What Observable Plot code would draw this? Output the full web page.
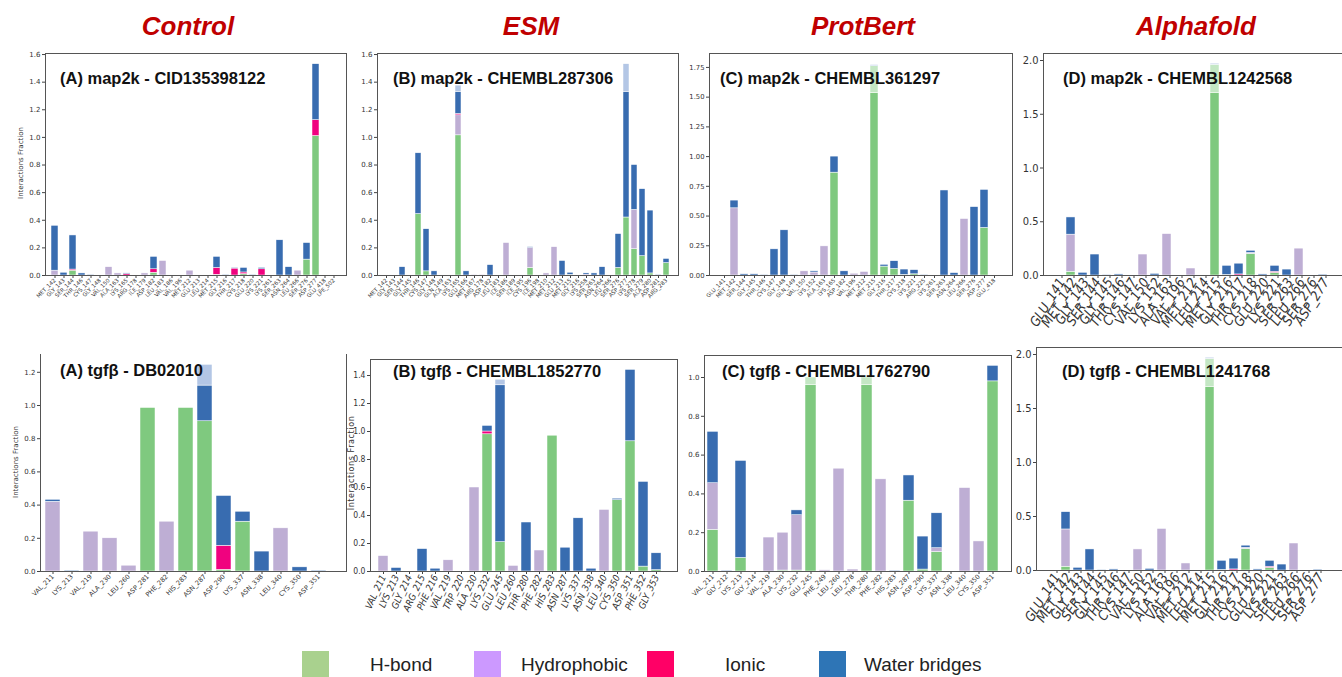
<!DOCTYPE html>
<html><head><meta charset="utf-8">
<script src="https://cdn.jsdelivr.net/npm/d3@7"></script>
<script src="https://cdn.jsdelivr.net/npm/@observablehq/plot@0.6"></script>
<style>
body{margin:0;background:#fff;}
#root{position:relative;width:1342px;height:677px;overflow:hidden;font-family:"Liberation Sans",Arial,sans-serif;}
.hdr{position:absolute;font-weight:bold;font-style:italic;font-size:26px;color:#c00000;transform:translate(-50%,-50%);white-space:nowrap}
.ttl{position:absolute;font-weight:bold;font-size:16.5px;color:#111;white-space:nowrap;transform:translateY(-50%)}
.spine{position:absolute;box-sizing:border-box;border:0 solid #555;}
.ylab{position:absolute;white-space:nowrap;color:#333;font-family:"DejaVu Sans",sans-serif;transform:translate(-50%,-50%) rotate(-90deg);}
.leg{position:absolute;font-size:19px;color:#222;transform:translateY(-50%);white-space:nowrap}
.sw{position:absolute;width:27px;height:27px}
</style></head>
<body><div id="root"></div>
<script>
// ---------- series ----------
const SERIES = ["H-bond","Hydrophobic","Ionic","Water bridges","H-bond (faded)","Water bridges (faded)"];
const COLORS = ["#7fc97f","#beaed4","#f0027f","#386cb0","#c4e7c4","#b3c6e5"];

// ---------- map2k : Control ----------
const ctrlMapLabels = ["MET_142","GLY_143","SER_144","THR_146","CYS_147","GLY_148","VAL_150","ALA_163","LYS_165","ARG_178","ILE_179","ASP_182","LEU_183","VAL_186","VAL_196","MET_212","GLU_213","LEU_214","MET_215","GLY_216","THR_217","CYS_218","GLU_220","LYS_221","LYS_261","SER_263","ASN_264","LEU_266","SER_276","ASP_277","GLU_418","LPE_502"];
const ctrlMapHB  = [0,0,.035,0,0,0,0,0,0,0,0,.02,0,0,0,0,0,0,.005,0,0,.01,0,0,0,0,0,0,.115,1.01,0,0];
const ctrlMapHP  = [.035,0,0,0,0,0,.06,.015,0,0,.015,0,.105,0,0,.035,0,0,0,0,0,0,0,0,0,0,0,.035,0,0,0,0];
const ctrlMapION = [0,0,.008,0,0,0,0,0,.01,0,0,.025,0,0,0,0,0,0,.05,0,.05,.012,0,.045,0,0,0,0,0,.115,0,0];
const ctrlMapWB  = [.325,.02,.247,.015,.005,0,0,0,.005,0,0,.09,0,0,0,0,0,0,.08,.005,.005,.033,.005,.01,0,.255,.06,0,.12,.405,0,0];

// ---------- map2k : ESM ----------
const esmMapLabels = ["MET_142","GLY_143","SER_144","GLY_145","THR_146","CYS_147","GLY_148","GLN_149","ALA_163","LYS_165","GLU_166","MET_167","ARG_178","ASP_182","LEU_183","ILE_186","SER_189","ILE_195","CYS_196","ILE_198","MET_210","MET_212","GLU_213","MET_215","GLY_216","LYS_258","SER_263","ASN_264","LEU_266","SER_276","ASP_277","LYS_278","SER_279","ALA_280","ASP_281","ARG_283"];
const esmMapHB  = [0,0,0,0,.445,.03,0,0,0,1.015, 0,0,0,0,0,0,0,0,.055,0, 0,0,0,.005,0,0,0,0,0,.055, .42,.19,.14,.015,0,.09];
const esmMapHP  = [0,0,0,0,0,0,0,0,0,.145, 0,.005,.005,0,0,.235,0,0,.145,0, .015,.205,0,0,0,0,0,0,0,0, 0,.285,0,0,0,0];
const esmMapION = [0,0,0,0,0,0,0,0,0,.01, 0,0,0,0,0,0,0,0,0,0, 0,0,0,0,0,.005,0,0,0,0, 0,0,0,0,0,0];
const esmMapWB  = [0,0,.06,0,.44,.305,.03,0,0,.16, .03,0,0,.075,0,0,0,0,.005,0, 0,0,.105,.015,0,.01,.015,.06,0,.245, .91,.325,.485,.455,.005,.03];
const esmMapWBX = [0,0,0,0,0,0,0,0,0,.045, 0,0,0,0,0,0,0,0,0,0, 0,0,0,0,0,0,0,0,0,0, .20,0,0,0,0,0];

// ---------- map2k : ProtBert ----------
const pbMapLabels = ["GLU_141","MET_142","SER_144","GLY_145","THR_146","CYS_147","GLY_148","GLN_149","VAL_150","LYS_152","ALA_163","LYS_165","ASP_182","VAL_196","MET_212","MET_215","GLY_216","THR_217","CYS_218","LYS_221","ARG_225","LYS_261","SER_263","ASN_264","LEU_266","SER_276","ASP_277","GLU_418"];
const pbMapHB  = [0,0,0,0,0,0,0,0,0,0, 0,.865,0,0,0,1.535,.075,.055,.005,.01, 0,0,0,0,0,0,.40,0];
const pbMapHBX = [0,0,0,0,0,0,0,0,0,0, 0,0,0,0,0,.225,0,0,0,0, 0,0,0,0,0,0,0,0];
const pbMapHP  = [0,.565,0,0,0,0,0,0,.035,.025, .245,0,0,.015,.03,0,0,0,0,0, 0,0,0,0,.475,0,0,0];
const pbMapWB  = [0,.065,.01,.01,.005,.22,.38,.005,0,.01, 0,.135,.035,0,0,0,.015,.065,.045,.035, .005,0,.715,.02,0,.575,.32,0];
const pbMapWBX = [0,0,0,0,0,0,0,0,0,0, 0,0,0,0,0,.01,0,0,0,0, 0,0,0,0,0,0,0,0];

// ---------- map2k / tgfb : Alphafold ----------
const afLabels = ["GLU_141","MET_142","GLY_143","SER_144","GLY_145","THR_146","CYS_147","VAL_150","LYS_152","ALA_163","VAL_196","MET_212","LEU_214","MET_215","GLY_216","THR_217","CYS_218","GLU_220","LYS_221","SER_263","LEU_266","SER_276","ASP_277"];
const afHB  = [0,.035,0,0,0,0,0,0,0,0, 0,0,0,1.70,.005,0,.20,0,.025,0, 0,0,0];
const afHBX = [0,0,0,0,0,0,0,0,0,0, 0,0,0,.26,0,0,0,0,0,0, 0,0,0];
const afHP  = [0,.345,0,0,0,0,0,.195,0,.385, 0,.065,0,0,0,0,.01,0,0,0, .25,0,0];
const afION = [0,0,0,0,0,0,0,0,0,0, 0,0,0,0,0,.01,0,0,.01,0, 0,0,0];
const afWB  = [0,.16,.025,.195,.005,.01,0,0,.015,0, 0,0,0,0,.085,.10,.02,.01,.055,.055, 0,0,.008];
const afWBX = [0,0,0,0,0,0,0,0,0,0, 0,0,0,.01,0,0,0,0,0,0, 0,0,0];

// ---------- tgfb : Control ----------
const ctrlTgfLabels = ["VAL_211","LYS_213","VAL_219","ALA_230","LEU_260","ASP_281","PHE_282","HIS_283","ASN_287","ASP_290","LYS_337","ASN_338","LEU_340","CYS_350","ASP_351"];
const ctrlTgfHB  = [0,0,0,0,0,.985,0,.985,.905,.01,.30,0,0,0,0];
const ctrlTgfHP  = [.42,0,.24,.20,.035,0,.30,0,0,0,0,0,.26,0,0];
const ctrlTgfION = [0,0,0,0,0,0,0,0,0,.145,0,0,0,0,0];
const ctrlTgfWB  = [.012,.005,0,0,0,0,0,0,.215,.30,.06,.12,0,.025,.005];
const ctrlTgfWBX = [0,0,0,0,0,0,0,0,.125,0,0,0,0,0,0];

// ---------- tgfb : ESM ----------
const esmTgfLabels = ["VAL_211","LYS_213","GLY_214","ARG_215","PHE_216","VAL_219","TRP_220","ALA_230","LYS_232","GLU_245","LEU_260","THR_280","PHE_282","HIS_283","ASN_287","LYS_337","ASN_338","LEU_340","CYS_350","ASP_351","PHE_352","GLY_353"];
const esmTgfHB  = [0,0,0,0,0,0,0,0,.98,.21,0,0,0,.97,0,0,0,0,.51,.93,.035,.01];
const esmTgfHP  = [.11,0,0,0,0,.08,0,.60,0,0,.04,0,.15,0,0,0,0,.44,0,0,0,0];
const esmTgfION = [0,0,0,0,0,0,0,0,.02,0,0,0,0,0,0,0,0,0,0,0,0,0];
const esmTgfWB  = [0,.025,0,.16,.02,0,0,0,.04,1.12,0,.35,0,0,.17,.38,.02,0,.01,.51,.605,.12];
const esmTgfWBX = [0,0,0,0,0,0,0,0,0,.04,0,0,0,0,0,0,0,0,0,0,0,0];

// ---------- tgfb : ProtBert ----------
const pbTgfLabels = ["VAL_211","GLY_212","LYS_213","GLY_214","VAL_219","ALA_230","LYS_232","GLU_245","PHE_249","LEU_260","LEU_278","THR_280","PHE_282","HIS_283","ASN_287","ASP_290","LYS_337","ASN_338","LEU_340","CYS_350","ASP_351"];
const pbTgfHB  = [.215,0,.07,0,0,.005,.005,.96,0,0,0,.96,0,0,.365,.01,.10,0,0,0,.98];
const pbTgfHBX = [0,0,0,0,0,0,0,.04,0,0,0,.04,0,0,0,0,0,0,0,0,0];
const pbTgfHP  = [.24,0,0,0,.175,.195,.285,0,.006,.53,.01,0,.475,0,0,0,.02,0,.43,.155,0];
const pbTgfWB  = [.265,.004,.50,0,0,0,.025,0,0,0,0,0,0,.004,.13,.17,.18,0,0,0,.08];

// ---------- helpers ----------
const root = document.getElementById("root");
function div(cls, css, text){ const d=document.createElement("div"); d.className=cls; Object.assign(d.style, css); if(text!=null) d.textContent=text; root.appendChild(d); return d; }

const NARROW = '"Liberation Sans Narrow","DejaVu Sans Condensed","Roboto Condensed",sans-serif';
const DJV = '"DejaVu Sans","Liberation Sans",sans-serif';

function panel(cfg){
  const {labels, L, R, T, B, ppu, c0, cN} = cfg;
  const mL = 34, mR = 4, mT = 4, mB = 70;
  const W = R - L, H = B - T, n = labels.length, step = (cN - c0)/(n-1);
  const ymax = H/ppu;
  const rows = [];
  labels.forEach((lab,i)=>{
    let base = 0;
    cfg.series.forEach((arr,k)=>{
      const v = arr ? arr[i] : 0;
      if (v > 0){ rows.push({label:lab, series:SERIES[k], y1:base, y2:base+v}); base += v; }
    });
  });
  const svg = Plot.plot({
    width: W+mL+mR, height: H+mT+mB,
    marginLeft: mL, marginRight: mR, marginTop: mT, marginBottom: mB,
    style: {background:"transparent", overflow:"visible", color:"#333"},
    x: {domain: labels, range: [c0-step/2-L+mL, cN+step/2-L+mL], paddingInner: 0.22, paddingOuter: 0.11},
    y: {domain: [0, ymax]},
    color: {domain: SERIES, range: COLORS},
    marks: [
      Plot.barY(rows, {x:"label", y1:"y1", y2:"y2", fill:"series", stroke:"#ffffff", strokeWidth:0.5}),
      Plot.axisY({ticks: cfg.yticks, tickFormat: d => d.toFixed(cfg.dec), tickSize: 3, tickPadding: 2,
                  fontSize: cfg.yfs, fontFamily: cfg.yff || DJV, label: null, stroke:"#444"}),
      Plot.axisX({tickRotate: cfg.rot, tickSize: 3, tickPadding: cfg.tp || 1, fontSize: cfg.xfs, dx: cfg.xdx || 0,
                  fontFamily: cfg.xff || DJV, fontStyle: cfg.xstyle || "normal", label: null, stroke:"#444"})
    ]
  });
  Object.assign(svg.style, {position:"absolute", left:(L-mL)+"px", top:(T-mT)+"px"});
  root.appendChild(svg);
  const sp = cfg.spines;
  div("spine", {left:L+"px", top:T+"px", width:((cfg.spineR||R)-L)+"px", height:(B-T+1)+"px",
    borderLeftWidth: sp.includes("l")?"1px":"0", borderRightWidth: sp.includes("r")?"1px":"0",
    borderTopWidth: sp.includes("t")?"1px":"0", borderBottomWidth: sp.includes("b")?"1px":"0"});
}

const ticks = (a, b, s) => d3.range(a, b + s/2, s);

// ---------- top row ----------
panel({labels: ctrlMapLabels, series:[ctrlMapHB, ctrlMapHP, ctrlMapION, ctrlMapWB],
  L:45, R:347, T:53, B:275, ppu:138.1, c0:50.7, cN:337.3, yticks:ticks(0,1.6,0.2), dec:1, yfs:7, xfs:5.5, rot:-45, spines:"lrtb"});
panel({labels: esmMapLabels, series:[esmMapHB, esmMapHP, esmMapION, esmMapWB, null, esmMapWBX],
  L:377, R:679, T:53, B:275, ppu:138.1, c0:382, cN:671, yticks:ticks(0,1.6,0.2), dec:1, yfs:7, xfs:5.5, rot:-45, spines:"lrtb"});
panel({labels: pbMapLabels, series:[pbMapHB, pbMapHP, null, pbMapWB, pbMapHBX, pbMapWBX],
  L:709, R:1013, T:53, B:275, ppu:118.9, c0:715, cN:1003, yticks:ticks(0,1.75,0.25), dec:2, yfs:6.8, xfs:5.5, rot:-45, spines:"lrtb"});
panel({labels: afLabels, series:[afHB, afHP, afION, afWB, afHBX, afWBX],
  L:1043, R:1342, T:53, B:275, ppu:107.5, c0:1049, cN:1333, yticks:ticks(0,2,0.5), dec:1, yfs:11, yff:NARROW,
  xfs:13.5, xff:NARROW, xstyle:"italic", rot:-58, xdx:3, spines:"ltb", spineR:1345});

// ---------- bottom row ----------
panel({labels: ctrlTgfLabels, series:[ctrlTgfHB, ctrlTgfHP, ctrlTgfION, ctrlTgfWB, null, ctrlTgfWBX],
  L:40, R:347, T:354, B:571, ppu:166, c0:51, cN:320, yticks:ticks(0,1.2,0.2), dec:1, yfs:7, xfs:6.5, rot:-45, spines:"lrb"});
panel({labels: esmTgfLabels, series:[esmTgfHB, esmTgfHP, esmTgfION, esmTgfWB, null, esmTgfWBX],
  L:370, R:678, T:359, B:571, ppu:140, c0:379, cN:660, yticks:ticks(0,1.4,0.2), dec:1, yfs:8.5, yff:NARROW,
  xfs:9.5, xff:NARROW, xstyle:"italic", rot:-65, spines:"lrtb"});
panel({labels: pbTgfLabels, series:[pbTgfHB, pbTgfHP, null, pbTgfWB, pbTgfHBX],
  L:704, R:1012, T:355, B:571, ppu:194, c0:712, cN:992, yticks:ticks(0,1.0,0.2), dec:1, yfs:7, xfs:6.5, rot:-45, spines:"lrtb"});
panel({labels: afLabels, series:[afHB, afHP, afION, afWB, afHBX, afWBX],
  L:1036, R:1342, T:347, B:570, ppu:108, c0:1044.8, cN:1327, yticks:ticks(0,2,0.5), dec:1, yfs:11, yff:NARROW,
  xfs:13.5, xff:NARROW, xstyle:"italic", rot:-58, xdx:3, spines:"ltb", spineR:1345});

// ---------- texts ----------
[["Control",188],["ESM",531],["ProtBert",863],["Alphafold",1196]].forEach(([t,x])=>div("hdr",{left:x+"px",top:"26px"},t));
[["(A) map2k - CID135398122",60,78],["(B) map2k  - CHEMBL287306",393,78],["(C) map2k - CHEMBL361297",720,78],["(D) map2k - CHEMBL1242568",1063,78],
 ["(A) tgfβ - DB02010",60,370],["(B) tgfβ  - CHEMBL1852770",393,371],["(C) tgfβ - CHEMBL1762790",722,371],["(D) tgfβ - CHEMBL1241768",1062,371]]
 .forEach(([t,x,y])=>div("ttl",{left:x+"px",top:y+"px"},t));
div("ylab",{left:"21px",top:"163px",fontSize:"7px"},"Interactions Fraction");
div("ylab",{left:"16px",top:"462px",fontSize:"7px"},"Interactions Fraction");
div("ylab",{left:"351px",top:"463px",fontSize:"8px",letterSpacing:"0.6px"},"Interactions Fraction");

// ---------- legend ----------
const legItems = [[SERIES[0],"#a9d18e",302,370],[SERIES[1],"#cc99ff",474,521],[SERIES[2],"#ff0066",647,725],[SERIES[3],"#2e75b6",819,864]];
legItems.forEach(([t,c,sx,tx])=>{
  div("sw",{left:sx+"px",top:"651px",background:c});
  div("leg",{left:tx+"px",top:"665px"},t);
});
</script></body></html>
